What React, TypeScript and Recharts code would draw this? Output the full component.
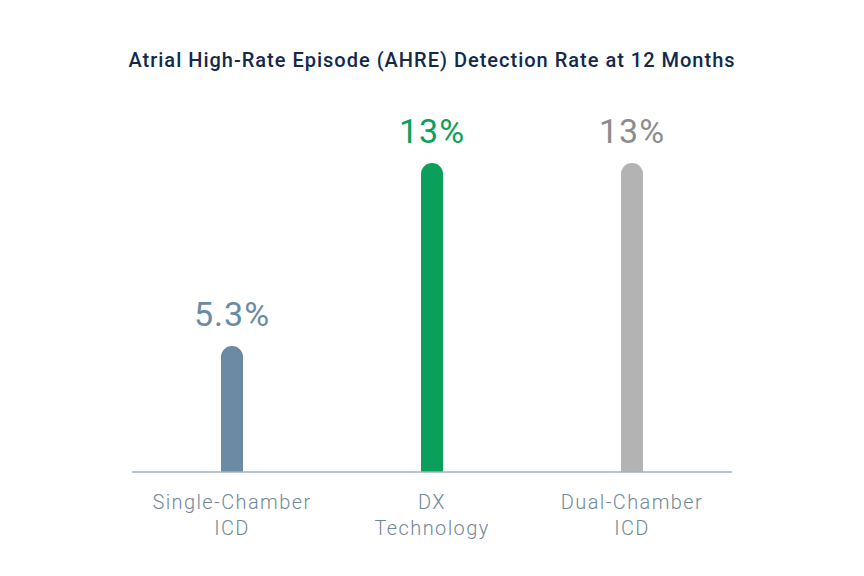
import { Bar, BarChart, Cell, LabelList, XAxis, YAxis } from 'recharts';

const categories = ['Single-Chamber\nICD', 'DX\nTechnology', 'Dual-Chamber\nICD'];
const rates = [5.3, 13, 13];
const rateLabels = ['5.3%', '13%', '13%'];
const barColors = ['#6b8aa3', '#0aa05c', '#b3b3b3'];
const labelColors = ['#6b8aa3', '#0aa05c', '#8c8c8c'];

const data = categories.map((name, i) => ({ name, rate: rates[i], label: rateLabels[i] }));

function CategoryTick(props: any) {
  const { x, y, payload } = props;
  const lines = String(payload.value).split('\n');
  return (
    <g transform={`translate(${x},${y})`}>
      {lines.map((line, i) => (
        <text
          key={i}
          x={0}
          y={29 + i * 26}
          textAnchor="middle"
          fill="#72879a"
          fontSize={20}
          fontWeight={300}
          letterSpacing={1.4}
          fontFamily="Roboto"
        >
          {line}
        </text>
      ))}
    </g>
  );
}

function ValueLabel(props: any) {
  const { x, y, width, index } = props;
  return (
    <text
      x={x + width / 2}
      y={y - 20}
      textAnchor="middle"
      fill={labelColors[index]}
      fontSize={34}
      letterSpacing={1}
      fontFamily="Roboto"
    >
      {rateLabels[index]}
    </text>
  );
}

export default function App() {
  return (
    <div style={{ position: 'absolute', left: 0, top: 0, width: 864, height: 576, background: '#fff' }}>
      <BarChart
        width={864}
        height={576}
        data={data}
        margin={{ top: 163, right: 132, bottom: 44, left: 132 }}
      >
        <text
          x={432}
          y={67}
          textAnchor="middle"
          fill="#13294b"
          fontSize={20}
          fontWeight={500}
          letterSpacing={1}
          fontFamily="Roboto"
        >
          Atrial High-Rate Episode (AHRE) Detection Rate at 12 Months
        </text>
        <XAxis
          dataKey="name"
          height={60}
          tick={<CategoryTick />}
          tickLine={false}
          axisLine={{ stroke: '#9fb2c0', strokeWidth: 1.5 }}
          interval={0}
        />
        <YAxis hide domain={[0, 13]} />
        <Bar dataKey="rate" barSize={22} radius={[11, 11, 0, 0]} isAnimationActive={false}>
          {data.map((_, i) => (
            <Cell key={i} fill={barColors[i]} />
          ))}
          <LabelList dataKey="label" content={<ValueLabel />} />
        </Bar>
      </BarChart>
    </div>
  );
}
